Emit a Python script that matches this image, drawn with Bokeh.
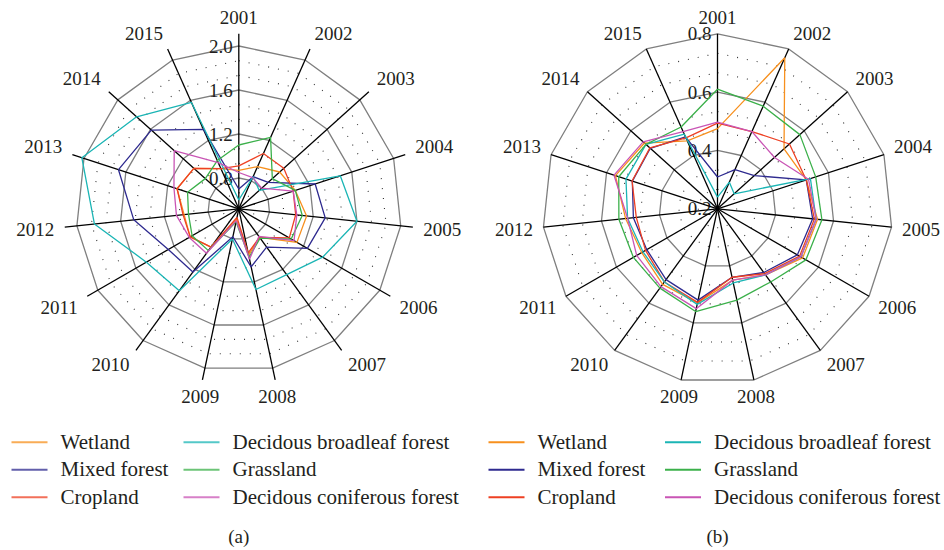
import numpy as np
from bokeh.plotting import figure
from bokeh.models import Range1d
from bokeh.core.properties import value
from bokeh.embed import file_html
from bokeh.resources import INLINE

# ---------------- data ----------------
years = [str(y) for y in range(2001, 2016)]
series_names = ["Wetland", "Mixed forest", "Cropland",
                "Decidous broadleaf forest", "Grassland", "Decidous coniferous forest"]

# panel (a)
a_wetland = [0.87, 0.94, 1.02, 1.06, 1.14, 1.13, 0.84, 0.95, 0.62, 0.95, 1.03, 1.02, 1.11, 1.07, 0.92]
a_mixed = [0.70, 0.84, 0.88, 1.25, 1.31, 1.24, 0.95, 1.06, 0.78, 1.23, 1.26, 1.48, 1.67, 1.59, 1.31]
a_cropland = [0.91, 1.07, 1.07, 1.04, 1.04, 1.05, 0.84, 0.93, 0.60, 0.95, 1.03, 1.03, 1.11, 1.07, 0.92]
a_broadleaf = [0.60, 0.84, 0.77, 1.49, 1.60, 1.40, 1.26, 1.27, 0.80, 1.44, 1.49, 1.84, 2.02, 1.77, 1.58]
a_grassland = [1.10, 1.23, 0.93, 1.06, 1.10, 1.07, 0.85, 0.97, 0.64, 0.99, 1.01, 0.98, 1.01, 0.93, 1.00]
a_coniferous = [0.85, 0.83, 0.80, 1.04, 1.05, 1.10, 0.83, 0.99, 0.63, 1.02, 1.04, 1.09, 1.14, 1.31, 0.98]

# panel (b)
b_wetland = [0.475, 0.767, 0.507, 0.52, 0.545, 0.537, 0.48, 0.45, 0.53, 0.52, 0.50, 0.517, 0.568, 0.537, 0.455]
b_mixed = [0.309, 0.347, 0.37, 0.52, 0.528, 0.516, 0.47, 0.44, 0.52, 0.50, 0.48, 0.49, 0.507, 0.51, 0.47]
b_cropland = [0.494, 0.49, 0.532, 0.52, 0.534, 0.525, 0.475, 0.44, 0.528, 0.51, 0.485, 0.48, 0.508, 0.512, 0.466]
b_broadleaf = [0.24, 0.30, 0.277, 0.535, 0.54, 0.53, 0.48, 0.46, 0.535, 0.51, 0.495, 0.51, 0.53, 0.53, 0.48]
b_grassland = [0.61, 0.585, 0.58, 0.554, 0.56, 0.55, 0.51, 0.52, 0.56, 0.536, 0.533, 0.54, 0.556, 0.53, 0.507]
b_coniferous = [0.497, 0.49, 0.463, 0.528, 0.54, 0.53, 0.48, 0.45, 0.55, 0.53, 0.52, 0.51, 0.573, 0.543, 0.49]

ticks_a = [0.8, 1.2, 1.6, 2.0]
tick_labels_a = ["0.8", "1.2", "1.6", "2.0"]
ticks_b = [0.2, 0.4, 0.6, 0.8]
tick_labels_b = ["0.2", "0.4", "0.6", "0.8"]
captions = ["(a)", "(b)"]

# ---------------- style ----------------
colors = ["#F7901E", "#2E2A8F", "#EE4023", "#1BB5B5", "#3BB04A", "#C955B5"]
FONT = value("Liberation Serif")
TXT = "#231F20"

W, H = 942, 548
p = figure(width=W, height=H, x_range=Range1d(0, W), y_range=Range1d(H, 0),
           output_backend="svg", toolbar_location=None, min_border=0,
           x_axis_type=None, y_axis_type=None)
p.outline_line_color = None
p.xgrid.visible = False
p.ygrid.visible = False
p.background_fill_color = "white"
p.border_fill_color = "white"

N = len(years)
theta = np.deg2rad(np.arange(N) * 360.0 / N)
S, C = np.sin(theta), np.cos(theta)


def ring(cx, cy, r):
    xs = list(cx + r * S) + [cx + r * S[0]]
    ys = list(cy - r * C) + [cy - r * C[0]]
    return xs, ys


def radar(cx, cy, vmin, scale, major, minor, spoke_len, tick_vals, tick_labels,
          data, caption, legend_x0):
    # dotted minor rings
    for v in minor:
        r = (v - vmin) * scale
        if r > 5:
            xs, ys = ring(cx, cy, r)
            p.line(xs, ys, line_color="#333333", line_width=1.1, line_dash="1 9")
    # major rings
    for v in major:
        r = (v - vmin) * scale
        if r > 1:
            xs, ys = ring(cx, cy, r)
            p.line(xs, ys, line_color="#7F7F7F", line_width=1.3)
    # radial tick labels
    ty = [cy - (v - vmin) * scale for v in tick_vals]
    p.text(x=[cx - 6] * len(tick_vals), y=ty, text=tick_labels, text_font=FONT,
           text_font_size="19px", text_color=TXT, text_align="right", text_baseline="middle")
    # spokes
    p.segment(x0=[cx] * N, y0=[cy] * N, x1=list(cx + spoke_len * S), y1=list(cy - spoke_len * C),
              line_color="black", line_width=1.3)
    # year labels: anchored just outside the spoke end, offset by half the text box
    lx, ly = [], []
    for i in range(N):
        s, c = S[i], C[i]
        fx = np.sign(s) if abs(s) > 0.3 else 0.0
        fy = float(np.clip(c / 0.4, -1, 1))
        lx.append(cx + 185 * s + 19.5 * fx)
        ly.append(cy - 185 * c - 6.5 * fy)
    p.text(x=lx, y=ly, text=years, text_font=FONT, text_font_size="19px",
           text_color=TXT, text_align="center", text_baseline="middle")
    # data lines
    for vals, col in zip(data, colors):
        r = np.clip((np.asarray(vals) - vmin) * scale, 0, None)
        xs = list(cx + r * S) + [cx + r[0] * S[0]]
        ys = list(cy - r * C) + [cy - r[0] * C[0]]
        p.line(xs, ys, line_color=col, line_width=1.3)
    # legend
    row_y0, row_dy = 441.7, 27.5
    col_dx = [0, legend_x0[1] - legend_x0[0]]
    for k, (name, col) in enumerate(zip(series_names, colors)):
        ci, ri = divmod(k, 3)
        x0 = legend_x0[0] + col_dx[ci]
        y = row_y0 + ri * row_dy
        p.segment(x0=[x0], y0=[y], x1=[x0 + 36], y1=[y], line_color=col,
                  line_width=2.0, line_alpha=0.75 if caption == "(a)" else 1.0)
        p.text(x=[x0 + 49], y=[y - 0.5], text=[name], text_font=FONT, text_font_size="21px",
               text_color=TXT, text_align="left", text_baseline="middle")
    # caption
    p.text(x=[cx], y=[535.5], text=[caption], text_font=FONT, text_font_size="19px",
           text_color=TXT, text_align="center", text_baseline="middle")


major_a = ticks_a
minor_a = [0.8 + k * 0.4 / 3 for k in range(-2, 10) if k % 3 != 0]
major_b = ticks_b[1:]
minor_b = [0.2 + k * 0.2 / 3 for k in range(1, 9) if k % 3 != 0]

radar(238.3, 208.3, 0.52, 110.0, major_a, minor_a, 175, ticks_a, tick_labels_a,
      [a_wetland, a_mixed, a_cropland, a_broadleaf, a_grassland, a_coniferous], captions[0], [11, 183])
radar(717.0, 208.3, 0.2, 175 / 0.6, major_b, minor_b, 175, ticks_b, tick_labels_b,
      [b_wetland, b_mixed, b_cropland, b_broadleaf, b_grassland, b_coniferous], captions[1], [488, 664.5])

open("out.html", "w").write(file_html(p, INLINE))
